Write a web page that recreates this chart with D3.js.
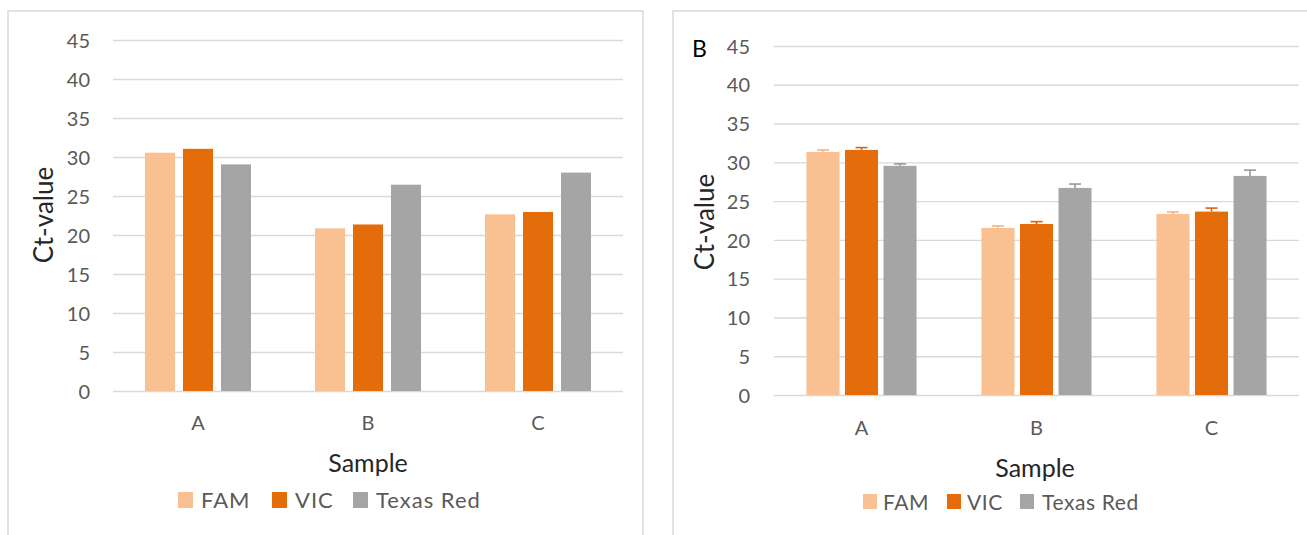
<!DOCTYPE html>
<html>
<head>
<meta charset="utf-8">
<script src="https://cdn.jsdelivr.net/npm/d3@7"></script>
<style>
  html, body { margin: 0; padding: 0; background: #fff; }
  svg { display: block; }
  text { font-family: Lato, "Open Sans", sans-serif; }
</style>
</head>
<body>
<svg id="chart" width="1307" height="535"></svg>
<script>
// Sample categories and dye series
const samples = ["A", "B", "C"];
const seriesNames = ["FAM", "VIC", "Texas Red"];
const yTickValues = [0, 5, 10, 15, 20, 25, 30, 35, 40, 45];

// Panel A: Ct-values per dye
const famA = [30.55, 20.85, 22.65];
const vicA = [31.05, 21.35, 22.95];
const texasRedA = [29.05, 26.45, 28.0];

// Panel B: mean Ct-values per dye with upper error
const famB = [31.35, 21.55, 23.35];
const vicB = [31.6, 22.05, 23.65];
const texasRedB = [29.55, 26.7, 28.25];
const famBErr = [0.25, 0.25, 0.25];
const vicBErr = [0.3, 0.3, 0.45];
const texasRedBErr = [0.25, 0.5, 0.75];

const seriesColors = ["#F9C192", "#E46C0A", "#A5A5A5"];
const errColors = ["#F5B482", "#D9620A", "#979797"];

const svg = d3.select("#chart");

function drawPanel(opts) {
  const g = svg.append("g");

  // frame
  g.append("path")
    .attr("d", `M${opts.frame.x0},540 V${opts.frame.y} H${opts.frame.x1} ${opts.frame.closeRight ? "V540" : ""}`)
    .attr("fill", "none").attr("stroke", "#D9D9D9").attr("stroke-width", 1.5);

  const y = d3.scaleLinear().domain([0, 45]).range([opts.yBottom, opts.yTop]);
  const x0 = d3.scaleBand().domain(samples).range([opts.xLeft, opts.xRight])
    .paddingInner(opts.groupPad).paddingOuter(opts.groupPad / 2);
  const x1 = d3.scaleBand().domain(seriesNames).range([0, x0.bandwidth()])
    .paddingInner(opts.barPad);

  // gridlines
  const yAxis = d3.axisLeft(y).tickValues(yTickValues)
    .tickSize(-(opts.xRight - opts.xLeft)).tickPadding(opts.tickPad);
  const ga = g.append("g").attr("transform", `translate(${opts.xLeft},0)`).call(yAxis);
  ga.select(".domain").remove();
  ga.selectAll(".tick line").attr("stroke", "#D9D9D9").attr("stroke-width", 1.4);
  ga.selectAll(".tick text").attr("fill", "#595959").style("font-size", "20px")
    .attr("dy", "0.36em");

  // category labels
  const xAxis = d3.axisBottom(x0).tickSize(0).tickPadding(opts.catPad);
  const gx = g.append("g").attr("transform", `translate(0,${opts.yBottom})`).call(xAxis);
  gx.select(".domain").remove();
  gx.selectAll(".tick text").attr("fill", "#595959").style("font-size", "20px");

  // bars
  opts.data.forEach((vals, si) => {
    g.append("g").selectAll("rect").data(samples).join("rect")
      .attr("x", (d) => x0(d) + x1(seriesNames[si]))
      .attr("width", x1.bandwidth())
      .attr("y", (d, i) => y(vals[i]))
      .attr("height", (d, i) => y(0) - y(vals[i]))
      .attr("fill", seriesColors[si]);
  });

  // upper error bars
  if (opts.errors) {
    opts.errors.forEach((errs, si) => {
      const vals = opts.data[si];
      const eg = g.append("g").attr("stroke", errColors[si]).attr("stroke-width", 1.6);
      samples.forEach((s, i) => {
        const cx = x0(s) + x1(seriesNames[si]) + x1.bandwidth() / 2;
        const top = y(vals[i] + errs[i]);
        eg.append("line").attr("x1", cx).attr("x2", cx).attr("y1", y(vals[i])).attr("y2", top);
        eg.append("line").attr("x1", cx - 6).attr("x2", cx + 6).attr("y1", top).attr("y2", top);
      });
    });
  }

  // axis titles
  g.append("text")
    .attr("transform", `translate(${opts.yTitle[0]},${opts.yTitle[1]}) rotate(-90)`)
    .attr("text-anchor", "middle").attr("fill", "#262626")
    .style("font-size", "26px").text("Ct-value");
  g.append("text")
    .attr("x", opts.xTitle[0]).attr("y", opts.xTitle[1])
    .attr("text-anchor", "middle").attr("fill", "#262626")
    .style("font-size", "25px").text("Sample");

  // legend
  const lg = g.append("g");
  seriesNames.forEach((name, si) => {
    const item = opts.legend[si];
    lg.append("rect").attr("x", item[0]).attr("y", opts.legendY - 8)
      .attr("width", opts.legendBox).attr("height", opts.legendBox + 1)
      .attr("fill", seriesColors[si]);
    lg.append("text").attr("x", item[1]).attr("y", opts.legendY + 8)
      .attr("fill", "#595959").style("font-size", opts.legendFont)
      .style("letter-spacing", opts.legendSpacing)
      .text(name);
  });

  if (opts.tag) {
    g.append("text").attr("x", opts.tag[0]).attr("y", opts.tag[1])
      .attr("fill", "#000").style("font-size", "23px").text(opts.tag[2]);
  }
}

drawPanel({
  frame: { x0: 8, y: 11, x1: 643, closeRight: true },
  yTop: 40, yBottom: 391, xLeft: 113, xRight: 623,
  groupPad: 0.3765, barPad: 8 / 38, tickPad: 23, catPad: 25,
  data: [famA, vicA, texasRedA],
  yTitle: [53, 215], xTitle: [368, 472],
  legendY: 500, legendBox: 15, legendFont: "22px", legendSpacing: "1px",
  legend: [[178, 201], [272, 295], [353, 376]]
});

drawPanel({
  frame: { x0: 673, y: 11, x1: 1310, closeRight: false },
  yTop: 46, yBottom: 395, xLeft: 774, xRight: 1299,
  groupPad: 0.371, barPad: 5.5 / 38.5, tickPad: 24, catPad: 26,
  data: [famB, vicB, texasRedB],
  errors: [famBErr, vicBErr, texasRedBErr],
  yTitle: [714, 222], xTitle: [1035, 477],
  legendY: 502, legendBox: 14, legendFont: "21px", legendSpacing: "0.6px",
  legend: [[863, 883], [947, 967], [1020, 1042]],
  tag: [692, 57, "B"]
});
</script>
</body>
</html>
